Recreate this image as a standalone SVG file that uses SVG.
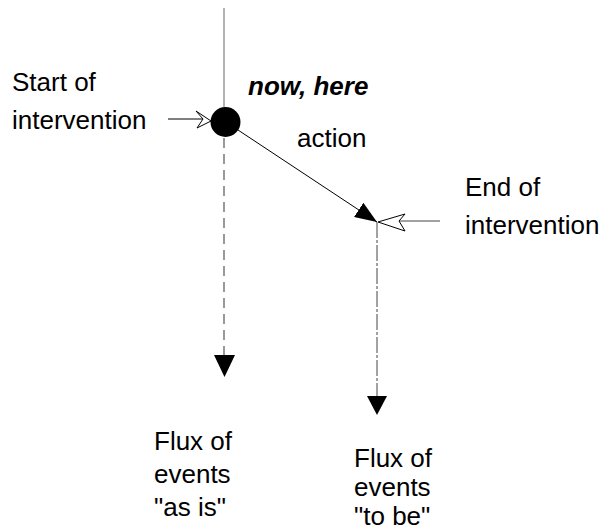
<svg xmlns="http://www.w3.org/2000/svg" width="606" height="531" viewBox="0 0 606 531">
  <style>
    .lbl { font-family: "Liberation Sans", Arial, sans-serif; font-size: 26px; fill: #000; }
    .em { font-weight: bold; font-style: italic; }
    .thin { stroke: #000; stroke-width: 1; fill: none; }
    .open { fill: #fff; stroke: #000; stroke-width: 1; stroke-linejoin: miter; }
    .solid { fill: #000; stroke: none; }
  </style>
  <defs>
    <marker id="tri" viewBox="0 0 22 17" refX="22" refY="8.5" markerWidth="22" markerHeight="17" markerUnits="userSpaceOnUse" orient="auto">
      <path d="M0,0 L22,8.5 L0,17 Z" fill="#000"/>
    </marker>
  </defs>
  <rect width="606" height="531" fill="#fff"/>

  <g id="connectors">
    <!-- timeline before the present -->
    <line x1="224" y1="8" x2="224" y2="107" stroke="#9a9a9a" stroke-width="1.5"/>
    <!-- "as is" continuation -->
    <line x1="224" y1="138" x2="224" y2="356" stroke="#555" stroke-width="1.2" stroke-dasharray="10 6"/>
    <polygon class="solid" points="214,355 235,355 224.5,377"/>
    <!-- action -->
    <line x1="238" y1="130" x2="377" y2="222" class="thin" marker-end="url(#tri)"/>
    <!-- "to be" continuation -->
    <line x1="377" y1="222" x2="377" y2="397" stroke="#444" stroke-width="1" stroke-dasharray="16 2 3 2"/>
    <polygon class="solid" points="367,396 387,396 377,415"/>
    <!-- start pointer -->
    <line x1="168" y1="119" x2="203" y2="119" class="thin"/>
    <polygon class="open" points="211,121 196,111 203,119 197,128"/>
    <!-- end pointer -->
    <line x1="399" y1="221" x2="440" y2="221" stroke="#444" stroke-width="1"/>
    <polygon class="open" points="378,222 405,214 399,221 405,231"/>
  </g>

  <g id="now">
    <circle cx="225.5" cy="122" r="15" fill="#000"/>
    <text class="lbl em" x="248" y="95">now, here</text>
  </g>

  <g id="start">
    <text class="lbl" x="12" y="91">Start of</text>
    <text class="lbl" x="12" y="129">intervention</text>
  </g>

  <g id="action">
    <text class="lbl" x="297" y="147">action</text>
  </g>

  <g id="end">
    <text class="lbl" x="465" y="196">End of</text>
    <text class="lbl" x="465" y="234">intervention</text>
  </g>

  <g id="as-is">
    <text class="lbl" x="154" y="450">Flux of</text>
    <text class="lbl" x="154" y="483">events</text>
    <text class="lbl" x="154" y="516">"as is"</text>
  </g>

  <g id="to-be">
    <text class="lbl" x="354" y="467">Flux of</text>
    <text class="lbl" x="354" y="496">events</text>
    <text class="lbl" x="354" y="525">"to be"</text>
  </g>
</svg>
